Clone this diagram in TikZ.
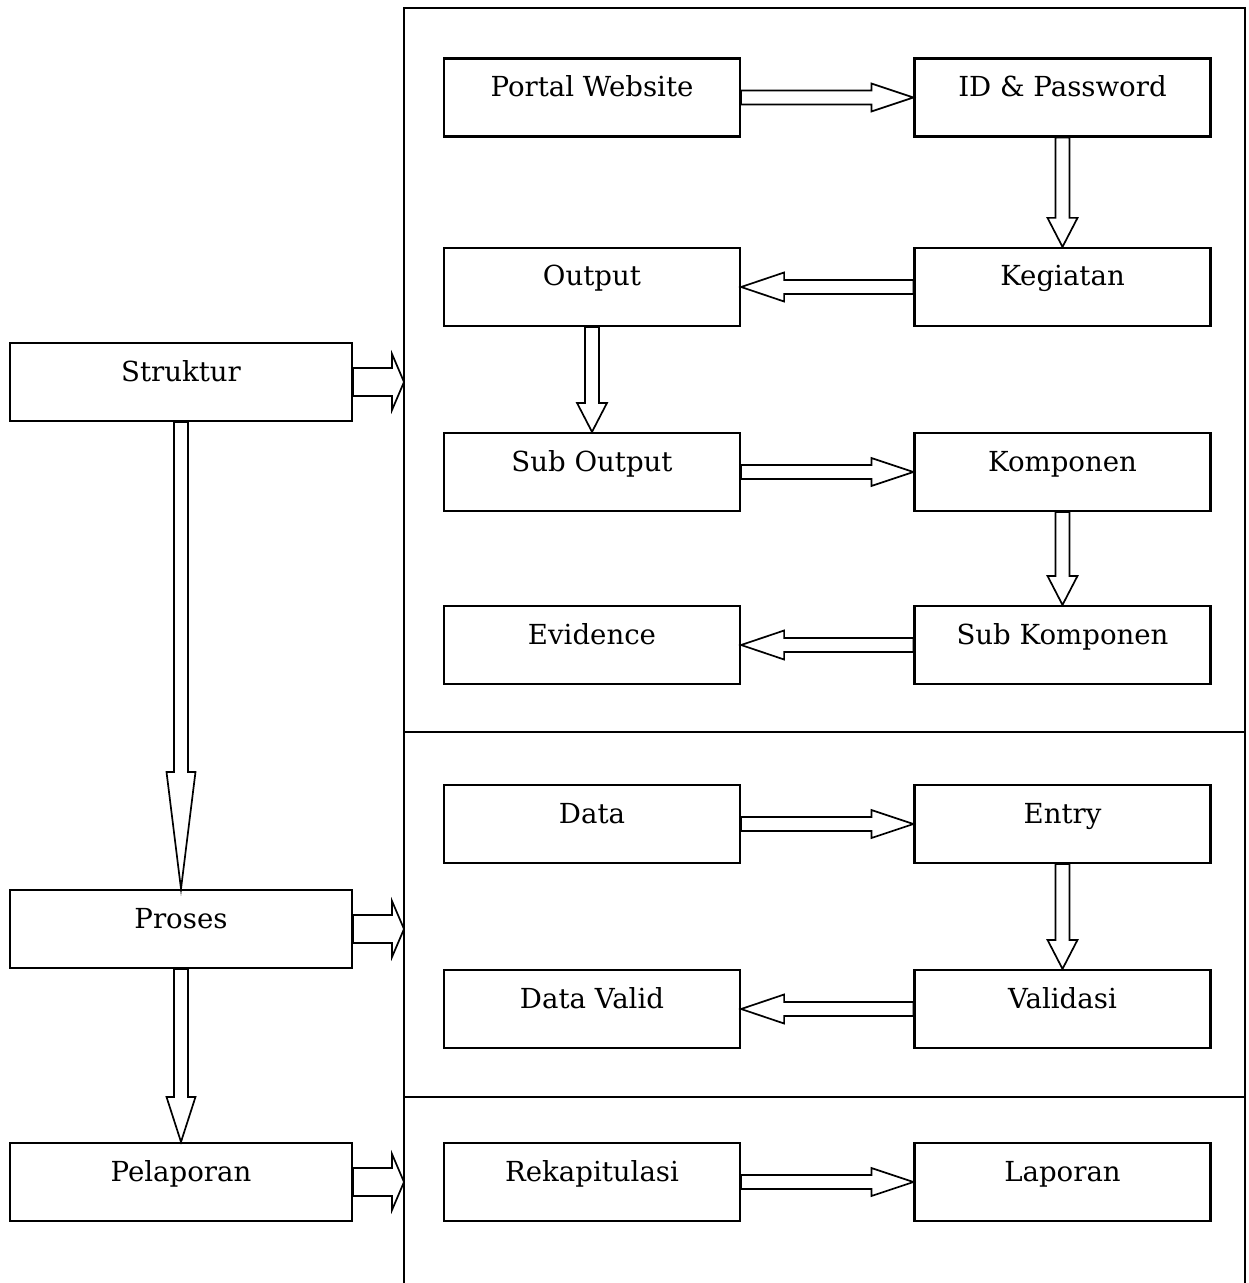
\documentclass[tikz,border=0pt]{standalone}
\usepackage{fontspec}
\setmainfont{DejaVu Serif}
\usetikzlibrary{calc}

\tikzset{
  caja/.style={draw, line width=1.1pt, minimum width=148pt, minimum height=39pt,
    inner sep=0pt, text height=10pt, text depth=11pt, font=\fontsize{13.8}{16}\selectfont},
  cajalarga/.style={caja, minimum width=171pt},
  flecha/.style={draw, line width=0.85pt, fill=white, line join=miter},
  marco/.style={line width=1.1pt},
}

% flecha de bloque: inicio, punta, medio ancho del tallo, medio ancho de la cabeza, largo de la cabeza
\newcommand{\flechabloque}[5]{%
  \path ($(#2)!#5!(#1)$) coordinate (cuello);
  \draw[flecha] ($(#1)!#3!90:(#2)$) -- ($(cuello)!#3!90:(#2)$) -- ($(cuello)!#4!90:(#2)$)
    -- (#2) -- ($(cuello)!#4!-90:(#2)$) -- ($(cuello)!#3!-90:(#2)$) -- ($(#1)!#3!-90:(#2)$) -- cycle;
}

\begin{document}
\begin{tikzpicture}[x=0.5pt, y=-0.5pt]
  \useasboundingbox (0,0) rectangle (1248,1283);

  % marco con tres secciones
  \draw[marco] (404,1283) -- (404,8) -- (1245,8) -- (1245,1283);
  \draw[marco] (404,732) -- (1245,732);
  \draw[marco] (404,1097) -- (1245,1097);
  \coordinate (marcoizq) at (404,0);

  % etapas
  \node[cajalarga] (struktur)  at (181,382)  {Struktur};
  \node[cajalarga] (proses)    at (181,929)  {Proses};
  \node[cajalarga] (pelaporan) at (181,1182) {Pelaporan};

  % estructura
  \node[caja] (portal)   at (592,97.5)   {Portal Website};
  \node[caja] (idpass)   at (1062.5,97.5) {ID \& Password};
  \node[caja] (output)   at (592,287)    {Output};
  \node[caja] (kegiatan) at (1062.5,287) {Kegiatan};
  \node[caja] (subout)   at (592,472)    {Sub Output};
  \node[caja] (komponen) at (1062.5,472) {Komponen};
  \node[caja] (evidence) at (592,645)    {Evidence};
  \node[caja] (subkomp)  at (1062.5,645) {Sub Komponen};

  % proceso
  \node[caja] (data)      at (592,824)    {Data};
  \node[caja] (entry)     at (1062.5,824) {Entry};
  \node[caja] (datavalid) at (592,1009)   {Data Valid};
  \node[caja] (validasi)  at (1062.5,1009) {Validasi};

  % reporte
  \node[caja] (rekap)   at (592,1182)    {Rekapitulasi};
  \node[caja] (laporan) at (1062.5,1182) {Laporan};

  % flechas internas
  \flechabloque{portal.east}{idpass.west}{3.5pt}{7pt}{21pt}
  \flechabloque{idpass.south}{kegiatan.north}{3.5pt}{7.5pt}{14.5pt}
  \flechabloque{kegiatan.west}{output.east}{3.5pt}{7.25pt}{21.5pt}
  \flechabloque{output.south}{subout.north}{3.5pt}{7.5pt}{14.5pt}
  \flechabloque{subout.east}{komponen.west}{3.5pt}{7pt}{21pt}
  \flechabloque{komponen.south}{subkomp.north}{3.5pt}{7.5pt}{14.5pt}
  \flechabloque{subkomp.west}{evidence.east}{3.5pt}{7.25pt}{21.5pt}
  \flechabloque{data.east}{entry.west}{3.5pt}{7pt}{21pt}
  \flechabloque{entry.south}{validasi.north}{3.5pt}{7.5pt}{14.5pt}
  \flechabloque{validasi.west}{datavalid.east}{3.5pt}{7.25pt}{21.5pt}
  \flechabloque{rekap.east}{laporan.west}{3.5pt}{7pt}{21pt}

  % flechas entre etapas
  \flechabloque{struktur.south}{proses.north}{3.5pt}{7.25pt}{58.5pt}
  \flechabloque{proses.south}{pelaporan.north}{3.5pt}{7.25pt}{22.5pt}

  % flechas hacia el marco
  \coordinate (m1) at (struktur.east -| marcoizq);
  \coordinate (m2) at (proses.east -| marcoizq);
  \coordinate (m3) at (pelaporan.east -| marcoizq);
  \flechabloque{struktur.east}{m1}{7pt}{14pt}{6pt}
  \flechabloque{proses.east}{m2}{7pt}{14pt}{6pt}
  \flechabloque{pelaporan.east}{m3}{7pt}{14pt}{6pt}
\end{tikzpicture}
\end{document}
